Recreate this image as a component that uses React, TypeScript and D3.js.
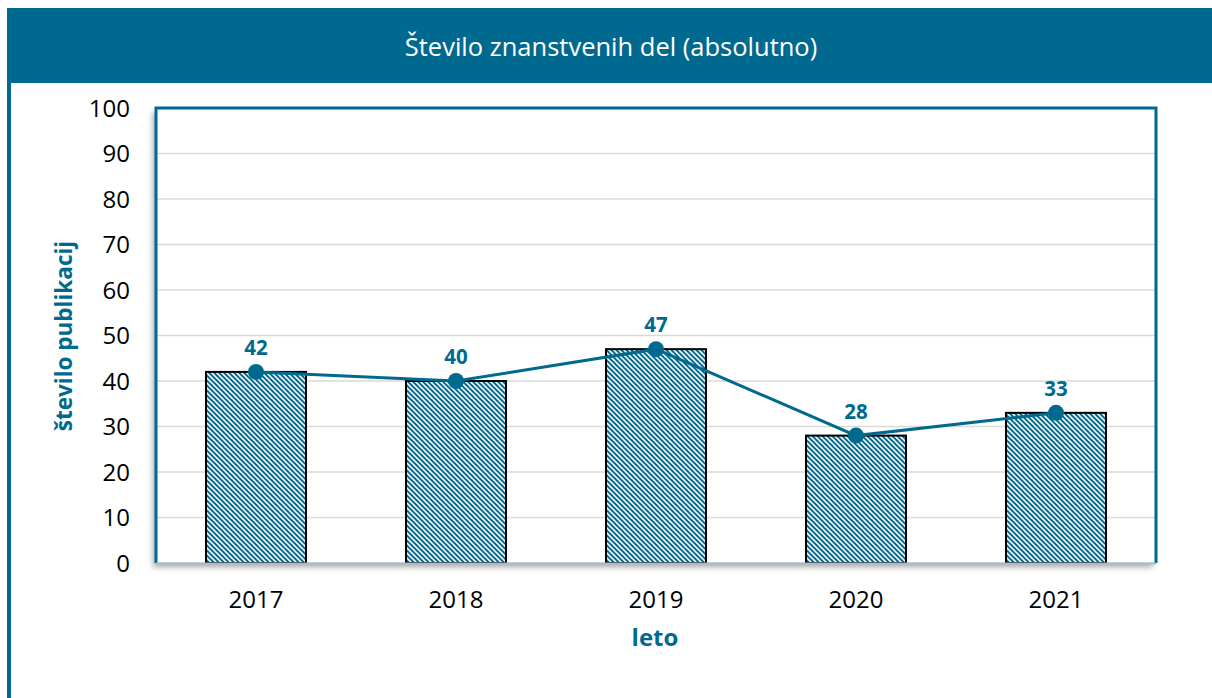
import React from "react";
import * as d3 from "d3";

const years = ["2017", "2018", "2019", "2020", "2021"];
const values = [42, 40, 47, 28, 33];
const yTicks = [0, 10, 20, 30, 40, 50, 60, 70, 80, 90, 100];
const title = "Število znanstvenih del (absolutno)";
const yTitle = "število publikacij";
const xTitle = "leto";

const TEAL = "#006A8E";
const FONT = "'Open Sans', 'Noto Sans', sans-serif";

export default function App() {
  const W = 1212;
  const H = 698;
  const left = 156;
  const right = 1156;
  const top = 108;
  const bottom = 563;

  const x = d3.scaleBand<string>().domain(years).range([left, right]).paddingInner(0.5).paddingOuter(0.25);
  const y = d3.scaleLinear().domain([0, 100]).range([bottom, top]);

  const line = d3
    .line<number>()
    .x((_, i) => (x(years[i]) as number) + x.bandwidth() / 2)
    .y((d) => y(d));

  const P = 5;
  const t = 2.8;

  return (
    <svg
      width={W}
      height={H}
      style={{ position: "absolute", left: 0, top: 0, background: "#fff" }}
      fontFamily={FONT}
    >
      <defs>
        <pattern id="hatch" width={P} height={P} patternUnits="userSpaceOnUse">
          <rect width={P} height={P} fill="#fff" />
          <polygon points={`0,0 ${t},0 ${P},${P - t} ${P},${P}`} fill={TEAL} />
          <polygon points={`0,${P - t} 0,${P} ${t},${P}`} fill={TEAL} />
        </pattern>
        <filter id="shadow" x="-5%" y="-5%" width="110%" height="115%">
          <feDropShadow dx="-3" dy="4" stdDeviation="3" floodColor="#000" floodOpacity="0.35" />
        </filter>
      </defs>

      {/* Header */}
      <rect x={7} y={8} width={W - 7} height={75} fill="#00698F" />
      <rect x={7} y={83} width={4} height={H - 83} fill="#00698F" />
      <text x={611} y={56} textAnchor="middle" fill="#fff" fontSize={25.5}>
        {title}
      </text>

      {/* Plot area */}
      <rect x={left} y={top} width={right - left} height={bottom - top} fill="#fff" filter="url(#shadow)" />

      {/* Gridlines */}
      {yTicks.map((tk) => (
        <line key={tk} x1={left} x2={right} y1={y(tk)} y2={y(tk)} stroke="#d9d9d9" strokeWidth={1.3} />
      ))}

      {/* Bars */}
      {values.map((v, i) => (
        <rect
          key={years[i]}
          x={x(years[i])}
          y={y(v)}
          width={x.bandwidth()}
          height={y(0) - y(v)}
          fill="url(#hatch)"
          stroke="#000"
          strokeWidth={2}
        />
      ))}

      {/* Plot border */}
      <path
        d={`M${left},${bottom} L${left},${top} L${right},${top} L${right},${bottom}`}
        fill="none"
        stroke={TEAL}
        strokeWidth={3}
      />
      <line x1={left} x2={right} y1={bottom + 0.5} y2={bottom + 0.5} stroke="#9fc0cf" strokeWidth={2} />

      {/* Line */}
      <path d={line(values) as string} fill="none" stroke={TEAL} strokeWidth={3} />
      {values.map((v, i) => (
        <circle key={i} cx={(x(years[i]) as number) + x.bandwidth() / 2} cy={y(v)} r={8} fill={TEAL} />
      ))}
      {values.map((v, i) => (
        <text
          key={i}
          x={(x(years[i]) as number) + x.bandwidth() / 2}
          y={y(v) - 17}
          textAnchor="middle"
          fill={TEAL}
          fontWeight="bold"
          fontSize={20.5}
        >
          {v}
        </text>
      ))}

      {/* Y ticks */}
      {yTicks.map((tk) => (
        <text key={tk} x={130} y={y(tk)} dy="0.36em" textAnchor="end" fontSize={24} fill="#000">
          {tk}
        </text>
      ))}

      {/* X ticks */}
      {years.map((yr) => (
        <text
          key={yr}
          x={(x(yr) as number) + x.bandwidth() / 2}
          y={608}
          textAnchor="middle"
          fontSize={24}
          fill="#000"
        >
          {yr}
        </text>
      ))}

      {/* Axis titles */}
      <text
        transform={`translate(72,336) rotate(-90)`}
        textAnchor="middle"
        fill={TEAL}
        fontWeight="bold"
        fontSize={22.5}
      >
        {yTitle}
      </text>
      <text x={655} y={646} textAnchor="middle" fill={TEAL} fontWeight="bold" fontSize={24}>
        {xTitle}
      </text>
    </svg>
  );
}
